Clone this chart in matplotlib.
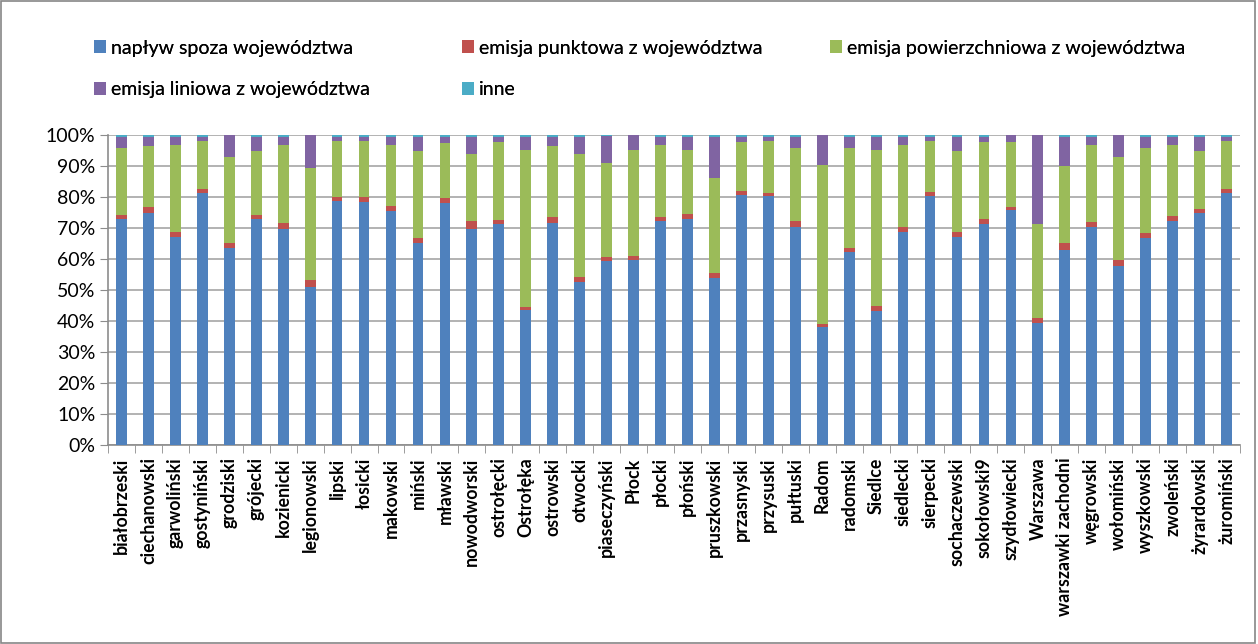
import matplotlib.pyplot as plt
import numpy as np
from matplotlib.ticker import PercentFormatter
from matplotlib.patches import Rectangle

plt.rcParams['font.family'] = ['Lato', 'DejaVu Sans']

# powiaty / miasta
powiaty = ['białobrzeski', 'ciechanowski', 'garwoliński', 'gostyniński', 'grodziski',
           'grójecki', 'kozienicki', 'legionowski', 'lipski', 'łosicki', 'makowski',
           'miński', 'mławski', 'nowodworski', 'ostrołęcki', 'Ostrołęka', 'ostrowski',
           'otwocki', 'piaseczyński', 'Płock', 'płocki', 'płoński', 'pruszkowski',
           'przasnyski', 'przysuski', 'pułtuski', 'Radom', 'radomski', 'Siedlce',
           'siedlecki', 'sierpecki', 'sochaczewski', 'sokołowski9', 'szydłowiecki',
           'Warszawa', 'warszawki zachodni', 'węgrowski', 'wołomiński', 'wyszkowski',
           'zwoleński', 'żyrardowski', 'żuromiński']

# udzialy zrodel [%]
naplyw = [72.9, 74.7, 67.2, 81.3, 63.4, 72.9, 69.7, 51.0, 78.7, 78.3, 75.4,
          65.2, 78.0, 69.7, 71.2, 43.5, 71.7, 52.7, 59.4, 59.8, 72.2, 72.9, 54.0,
          80.8, 80.3, 70.4, 38.2, 62.2, 43.2, 68.8, 80.4, 67.2, 71.3, 75.8,
          39.4, 63.0, 70.4, 57.6, 66.7, 72.2, 74.9, 81.2]
punktowa = [1.3, 2.0, 1.6, 1.3, 1.8, 1.3, 1.9, 2.1, 1.3, 1.7, 1.7,
            1.6, 1.6, 2.5, 1.4, 0.9, 1.7, 1.6, 1.1, 1.2, 1.2, 1.7, 1.6,
            1.2, 0.9, 1.8, 0.8, 1.2, 1.6, 1.6, 1.3, 1.6, 1.6, 0.9,
            1.6, 2.1, 1.6, 2.1, 1.6, 1.6, 1.3, 1.3]
powierzchniowa = [21.5, 19.9, 28.1, 15.6, 27.6, 20.6, 25.3, 36.4, 18.2, 18.2, 19.8,
                  28.0, 17.7, 21.8, 25.0, 50.9, 23.2, 39.7, 30.6, 34.3, 23.5, 20.7, 30.5,
                  15.7, 17.0, 23.5, 51.3, 32.3, 50.5, 26.5, 16.5, 26.0, 24.8, 21.0,
                  30.2, 24.8, 24.9, 33.1, 27.4, 23.1, 18.6, 15.7]
liniowa = [3.8, 2.9, 2.6, 1.3, 7.2, 4.7, 2.6, 10.5, 1.3, 1.3, 2.6,
           4.7, 2.2, 5.2, 1.9, 4.2, 2.9, 5.5, 8.6, 4.7, 2.6, 4.2, 13.4,
           1.8, 1.3, 3.8, 9.7, 3.8, 4.2, 2.6, 1.3, 4.7, 1.8, 2.3,
           28.8, 9.6, 2.6, 7.2, 3.8, 2.6, 4.7, 1.3]
inne = [0.5, 0.5, 0.5, 0.5, 0.0, 0.5, 0.5, 0.0, 0.5, 0.5, 0.5,
        0.5, 0.5, 0.8, 0.5, 0.5, 0.5, 0.5, 0.3, 0.0, 0.5, 0.5, 0.5,
        0.5, 0.5, 0.5, 0.0, 0.5, 0.5, 0.5, 0.5, 0.5, 0.5, 0.0,
        0.0, 0.5, 0.5, 0.0, 0.5, 0.5, 0.5, 0.5]

serie = [('napływ spoza województwa', naplyw, '#4F81BD'),
         ('emisja punktowa z województwa', punktowa, '#C0504D'),
         ('emisja powierzchniowa z województwa', powierzchniowa, '#9BBB59'),
         ('emisja liniowa z województwa', liniowa, '#8064A2'),
         ('inne', inne, '#4BACC6')]

fig = plt.figure(figsize=(12.58, 6.44), dpi=100)
ax = fig.add_axes([108/1258, 1-445/644, 1132/1258, 310/644])

x = np.arange(len(powiaty))
dol = np.zeros(len(powiaty))
uchwyty = {}
for nazwa, wart, kolor in serie:
    w = np.array(wart) / 100
    uchwyty[nazwa] = ax.bar(x, w, 0.4, bottom=dol, color=kolor, zorder=3, label=nazwa)
    dol += w

ax.set_xlim(-0.5, len(powiaty) - 0.5)
ax.set_ylim(0, 1)
ax.set_yticks(np.arange(0, 1.01, 0.1))
ax.yaxis.set_major_formatter(PercentFormatter(1.0, decimals=0))
ax.grid(axis='y', color='#a6a6a6', linewidth=1.2, zorder=0)

ax.set_xticks(x)
ax.set_xticklabels(powiaty, rotation=90, fontsize=12.8, fontweight='bold')
ax.set_xticks(np.arange(-0.5, len(powiaty)), minor=True)
ax.tick_params(axis='x', which='major', length=0, pad=9)
ax.tick_params(axis='x', which='minor', length=6, color='#8c8c8c')
ax.tick_params(axis='y', length=6, color='#8c8c8c', labelsize=14, pad=3)

for s in ['top', 'right']:
    ax.spines[s].set_visible(False)
for s in ['left', 'bottom']:
    ax.spines[s].set_color('#8c8c8c')
    ax.spines[s].set_linewidth(1.2)

# legenda w trzech kolumnach
kolumny = [(['napływ spoza województwa', 'emisja liniowa z województwa'], 86),
           (['emisja punktowa z województwa', 'inne'], 454),
           (['emisja powierzchniowa z województwa'], 822)]
for nazwy, x0 in kolumny:
    leg = fig.legend([uchwyty[n] for n in nazwy], nazwy, loc='upper left',
                     bbox_to_anchor=(x0/1258, 1-32/644), frameon=False, fontsize=14,
                     handlelength=0.65, handleheight=0.65, handletextpad=0.25,
                     labelspacing=1.25, borderaxespad=0)
    fig.add_artist(leg)

# ramka wykresu
fig.patches.append(Rectangle((0.001, 0.002), 0.997, 0.996, transform=fig.transFigure,
                             fill=False, edgecolor='#868686', linewidth=1.2))

fig.savefig('out.png', dpi=100)
